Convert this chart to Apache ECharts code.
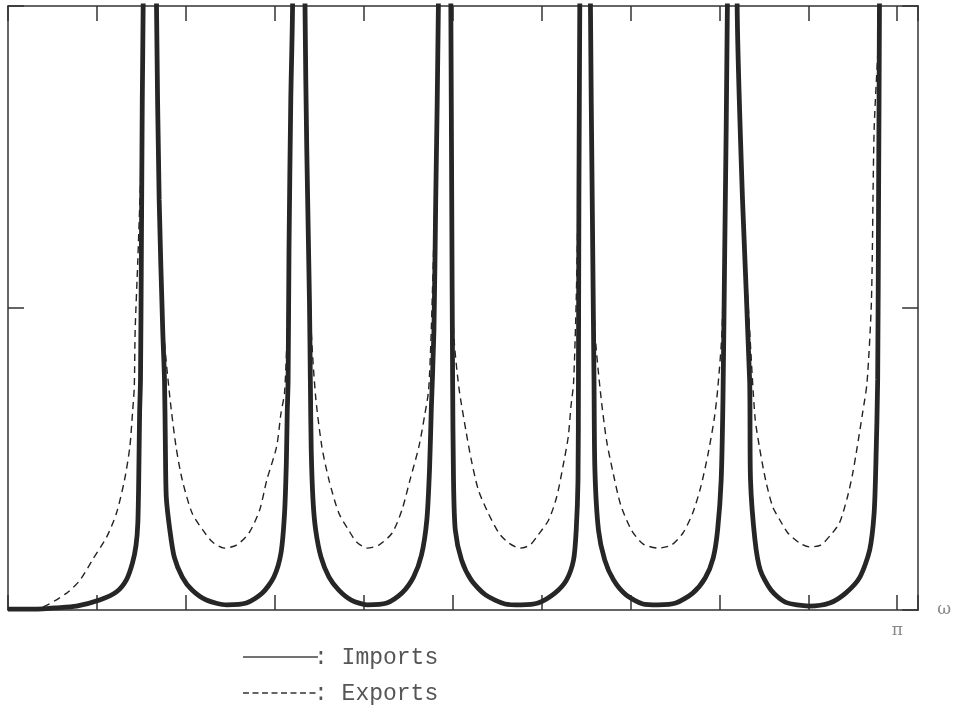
<!DOCTYPE html>
<html><head><meta charset="utf-8">
<script src="https://cdn.jsdelivr.net/npm/echarts@6/dist/echarts.min.js"></script>
<style>html,body{margin:0;padding:0;background:#fff}#c{width:954px;height:709px}</style>
</head><body><div id="c"></div>
<script>
const seriesNames = ['Imports', 'Exports'];

// omega / pi
const importsOmega = [
  0, 0.013, 0.033, 0.053, 0.077, 0.103, 0.122, 0.133, 0.140, 0.144, 0.146, 0.147, 0.148, 0.149, 0.150, 0.151, 0.152,
  0.159,
  0.167, 0.170, 0.174, 0.176, 0.177, 0.178, 0.182, 0.187, 0.196, 0.207, 0.223, 0.246, 0.268, 0.286, 0.299, 0.307, 0.311, 0.313, 0.314, 0.315, 0.316, 0.318, 0.320,
  0.327,
  0.334, 0.336, 0.339, 0.340, 0.341, 0.343, 0.346, 0.352, 0.361, 0.372, 0.386, 0.404, 0.426, 0.443, 0.456, 0.465, 0.471, 0.474, 0.476, 0.479, 0.481, 0.484,
  0.491,
  0.498, 0.499, 0.500, 0.501, 0.503, 0.510, 0.521, 0.537, 0.559, 0.577, 0.596, 0.615, 0.628, 0.636, 0.639, 0.641, 0.6415, 0.642, 0.643,
  0.649,
  0.655, 0.657, 0.659, 0.660, 0.664, 0.671, 0.681, 0.695, 0.714, 0.731, 0.751, 0.770, 0.784, 0.793, 0.798, 0.802, 0.804, 0.806, 0.809,
  0.815,
  0.820, 0.826, 0.834, 0.835, 0.840, 0.846, 0.858, 0.874, 0.901, 0.924, 0.942, 0.958, 0.969, 0.974, 0.976, 0.978, 0.979, 0.980,
  0.984
];
const importsValue = [
  0.003, 0.003, 0.003, 0.007, 0.013, 0.033, 0.060, 0.099, 0.156, 0.215, 0.288, 0.430, 0.652, 0.762, 1.192, 1.689, 2.0,
  6,
  2.0, 1.358, 0.927, 0.762, 0.540, 0.374, 0.265, 0.175, 0.109, 0.066, 0.033, 0.017, 0.023, 0.056, 0.109, 0.189, 0.321, 0.487, 0.652, 0.762, 1.192, 1.689, 2.0,
  6,
  2.0, 1.523, 1.026, 0.762, 0.530, 0.364, 0.265, 0.175, 0.109, 0.066, 0.033, 0.017, 0.023, 0.056, 0.109, 0.182, 0.298, 0.464, 0.662, 0.927, 1.358, 2.0,
  6,
  2.0, 1.358, 0.762, 0.430, 0.265, 0.166, 0.099, 0.050, 0.020, 0.017, 0.023, 0.056, 0.099, 0.166, 0.265, 0.430, 0.762, 1.358, 2.0,
  6,
  2.0, 1.358, 0.762, 0.464, 0.265, 0.166, 0.099, 0.050, 0.020, 0.017, 0.023, 0.056, 0.106, 0.172, 0.265, 0.430, 0.695, 1.192, 2.0,
  6,
  2.0, 1.358, 0.762, 0.430, 0.232, 0.132, 0.066, 0.026, 0.013, 0.023, 0.056, 0.109, 0.199, 0.321, 0.487, 0.762, 1.358, 2.0,
  6
];

const exportsOmega = [
  0.013, 0.036, 0.066, 0.081, 0.095, 0.111, 0.122, 0.131, 0.137, 0.140, 0.142, 0.143, 0.146, 0.150, 0.152,
  0.159,
  0.167, 0.170, 0.175, 0.182, 0.189, 0.196, 0.207, 0.219, 0.230, 0.243, 0.257, 0.271, 0.283, 0.291, 0.302, 0.307, 0.311, 0.314, 0.316, 0.320,
  0.327,
  0.334, 0.337, 0.341, 0.346, 0.353, 0.361, 0.372, 0.383, 0.392, 0.404, 0.417, 0.432, 0.443, 0.452, 0.462, 0.469, 0.473, 0.476, 0.480, 0.484,
  0.491,
  0.498, 0.499, 0.501, 0.507, 0.515, 0.521, 0.529, 0.540, 0.552, 0.563, 0.576, 0.587, 0.596, 0.608, 0.617, 0.624, 0.630, 0.633, 0.636, 0.639, 0.641, 0.643,
  0.649,
  0.655, 0.657, 0.660, 0.666, 0.673, 0.681, 0.689, 0.701, 0.714, 0.731, 0.746, 0.759, 0.770, 0.779, 0.787, 0.794, 0.798, 0.803, 0.806, 0.809,
  0.815,
  0.820, 0.826, 0.834, 0.840, 0.845, 0.852, 0.860, 0.868, 0.877, 0.890, 0.901, 0.914, 0.925, 0.935, 0.944, 0.950, 0.955, 0.961, 0.966, 0.971, 0.974, 0.980,
  0.984
];
const exportsValue = [
  0.003, 0.007, 0.056, 0.099, 0.166, 0.242, 0.321, 0.430, 0.540, 0.652, 0.738, 0.927, 1.159, 1.523, 2.0,
  6,
  2.0, 1.358, 0.927, 0.705, 0.540, 0.430, 0.321, 0.265, 0.225, 0.205, 0.215, 0.255, 0.331, 0.430, 0.540, 0.652, 0.719, 0.927, 1.192, 2.0,
  6,
  2.0, 1.358, 0.927, 0.705, 0.540, 0.430, 0.321, 0.265, 0.225, 0.205, 0.215, 0.255, 0.331, 0.430, 0.540, 0.652, 0.728, 0.927, 1.358, 2.0,
  6,
  2.0, 1.358, 0.927, 0.738, 0.593, 0.497, 0.397, 0.321, 0.255, 0.222, 0.205, 0.215, 0.248, 0.298, 0.374, 0.474, 0.573, 0.672, 0.752, 1.026, 1.358, 2.0,
  6,
  2.0, 1.358, 0.927, 0.728, 0.563, 0.447, 0.348, 0.265, 0.219, 0.205, 0.215, 0.255, 0.321, 0.407, 0.513, 0.629, 0.728, 0.927, 1.358, 2.0,
  6,
  2.0, 1.358, 0.927, 0.639, 0.540, 0.430, 0.341, 0.298, 0.255, 0.222, 0.209, 0.215, 0.248, 0.288, 0.374, 0.454, 0.540, 0.652, 0.752, 1.026, 1.589, 2.0,
  6
];

const xTickLabels = [{ value: 1, text: 'π' }];
const xAxisName = 'ω';

function pairs(xs, ys) { return xs.map((x, i) => [x, ys[i]]); }

const frameColor = '#333';
const chart = echarts.init(document.getElementById('c'));

const xCommon = {
  type: 'value', min: 0, max: 1.0235, interval: 0.1,
  axisLine: { show: true, onZero: false, lineStyle: { color: frameColor, width: 1.5 } },
  axisTick: { show: true, inside: true, length: 15, lineStyle: { color: frameColor, width: 1.5 } },
  splitLine: { show: false }
};
const yCommon = {
  type: 'value', min: 0, max: 2, interval: 1,
  axisLine: { show: true, onZero: false, lineStyle: { color: frameColor, width: 1.5 } },
  axisTick: { show: true, inside: true, length: 16, lineStyle: { color: frameColor, width: 1.5 } },
  axisLabel: { show: false },
  splitLine: { show: false }
};

const legendFont = { fontFamily: 'Liberation Mono', fontSize: 23, fill: '#555' };

chart.setOption({
  animation: false,
  backgroundColor: '#fff',
  grid: { left: 8, right: 33, top: 6, bottom: 99 },
  xAxis: [
    Object.assign({}, xCommon, {
      position: 'bottom',
      axisLabel: {
        show: true, margin: 12, color: '#888', fontSize: 17, fontFamily: 'DejaVu Serif',
        formatter: v => { const t = xTickLabels.find(d => Math.abs(d.value - v) < 1e-6); return t ? t.text : ''; }
      },
      name: xAxisName, nameLocation: 'end', nameGap: 19,
      nameTextStyle: { color: '#888', fontSize: 17, fontFamily: 'DejaVu Serif', verticalAlign: 'middle' }
    }),
    Object.assign({}, xCommon, { position: 'top', axisLabel: { show: false } })
  ],
  yAxis: [
    Object.assign({}, yCommon, { position: 'left' }),
    Object.assign({}, yCommon, { position: 'right' })
  ],
  legend: { show: false },
  graphic: [
    { type: 'line', shape: { x1: 243, y1: 657, x2: 318, y2: 657 }, style: { stroke: '#444', lineWidth: 1.5 } },
    { type: 'text', x: 314, y: 658, style: Object.assign({ text: ': ' + seriesNames[0], verticalAlign: 'middle' }, legendFont) },
    { type: 'line', shape: { x1: 243, y1: 693, x2: 318, y2: 693 }, style: { stroke: '#333', lineWidth: 1.5, lineDash: [6, 3.5] } },
    { type: 'text', x: 314, y: 694, style: Object.assign({ text: ': ' + seriesNames[1], verticalAlign: 'middle' }, legendFont) }
  ],
  series: [
    {
      name: seriesNames[0], type: 'line', symbol: 'none', z: 3,
      smooth: 0.25,
      data: pairs(importsOmega, importsValue),
      lineStyle: { color: '#262626', width: 4.8 },
      itemStyle: { color: '#262626' }
    },
    {
      name: seriesNames[1], type: 'line', symbol: 'none', z: 2,
      smooth: 0.25,
      data: pairs(exportsOmega, exportsValue),
      lineStyle: { color: '#222', width: 1.4, type: [7, 5] },
      itemStyle: { color: '#222' }
    }
  ]
});
</script></body></html>
